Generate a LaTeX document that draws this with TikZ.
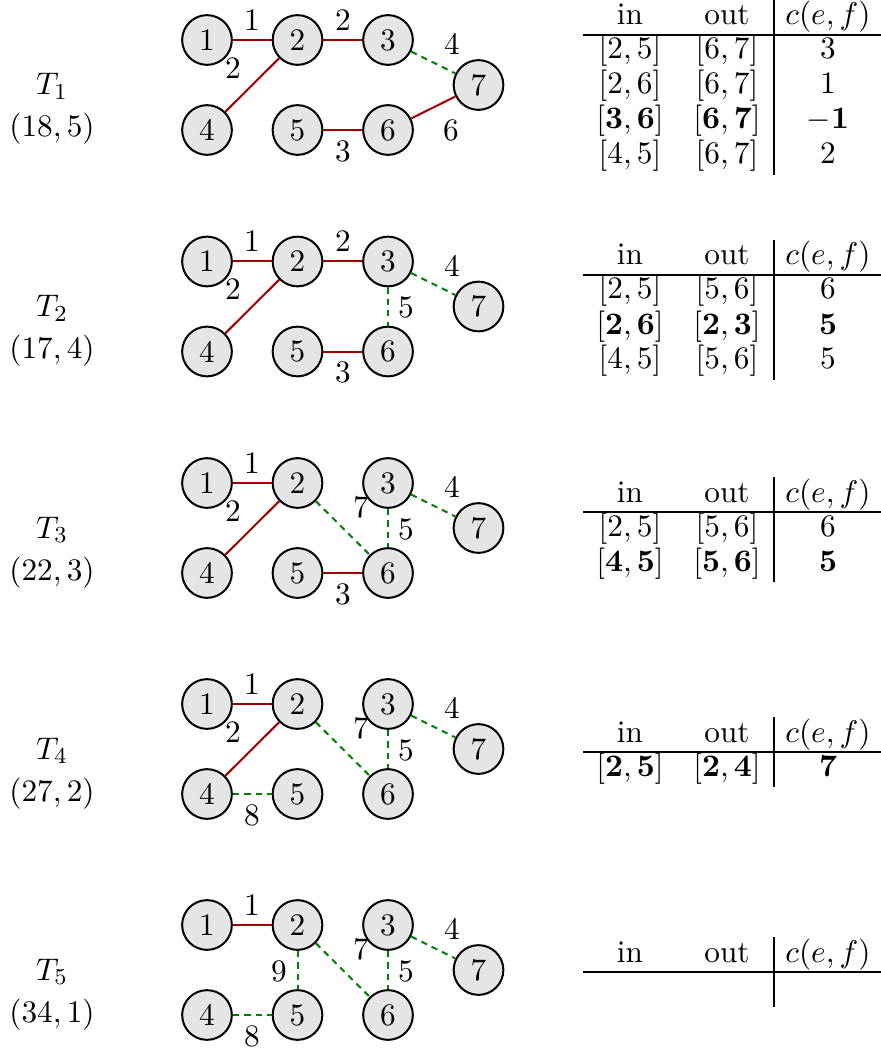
\documentclass[tikz,border=0pt]{standalone}
\usepackage{fix-cm}
\definecolor{edgered}{RGB}{160,0,0}
\definecolor{edgegreen}{RGB}{0,128,0}
\tikzset{
  every node/.style={font=\fontsize{10.95}{13.6}\selectfont},
  vert/.style={circle, draw=black, fill=black!10, line width=0.7pt, minimum size=17.4pt, inner sep=0pt},
  tree/.style={draw=edgered, line width=0.7pt},
  nontree/.style={draw=edgegreen, line width=0.7pt, dash pattern=on 2.2pt off 1.8pt},
  lab/.style={inner sep=0pt},
  cell/.style={inner sep=0pt, anchor=base},
  hrule/.style={line width=0.8pt},
  vrule/.style={line width=0.4pt}
}
\newcommand\placeverts{%
  \node[vert] (1) at (207,0) {1};
  \node[vert] (2) at (297.5,0) {2};
  \node[vert] (3) at (388,0) {3};
  \node[vert] (7) at (478.5,45) {7};
  \node[vert] (4) at (207,90) {4};
  \node[vert] (5) at (297.5,90) {5};
  \node[vert] (6) at (388,90) {6};
}
\newcommand\tlabel[2]{%
  \node[cell] (T) at (52,55) {$T_{#1}$};
  \node[cell] (P) at (52,97) {$#2$};
}
% #1 baseline of header, #2 bottom of vertical rule, #3 name prefix
\newcommand\tabframe[3]{%
  \node[cell] (#3hin) at (630,#1) {in};
  \node[cell] (#3hout) at (727,#1) {out};
  \node[cell] (#3hc) at (828,#1) {$c(e,f)$};
  \coordinate (#3rl) at (583,{#1+10});
  \coordinate (#3rr) at (881,{#1+10});
  \coordinate (#3vt) at (774,{#1-25});
  \coordinate (#3vb) at (774,#2);
  \draw[hrule] (#3rl) -- (#3rr);
  \draw[vrule] (#3vt) -- (#3vb);
}
\newcommand\tabrow[5]{% #1 name, #2 baseline, #3 in, #4 out, #5 c
  \node[cell] (#1in) at (630,#2) {$#3$};
  \node[cell] (#1out) at (727,#2) {$#4$};
  \node[cell] (#1c) at (828,#2) {$#5$};
}
\begin{document}
\begin{tikzpicture}[x=0.35pt,y=-0.35pt]
\useasboundingbox (0,0) rectangle (881,1051);

% ---------- T1 ----------
\begin{scope}[shift={(0,40)}, name prefix=A-]
  \tlabel{1}{(18,5)}
  \placeverts
  \draw[tree] (1) -- (2);
  \draw[tree] (2) -- (3);
  \draw[tree] (4) -- (2);
  \draw[nontree] (3) -- (7);
  \draw[tree] (6) -- (7);
  \draw[tree] (5) -- (6);
  \node[lab] (e12) at (252,-20) {1};
  \node[lab] (e23) at (343,-20) {2};
  \node[lab] (e24) at (233,28) {2};
  \node[lab] (e37) at (452,4) {4};
  \node[lab] (e67) at (451,90) {6};
  \node[lab] (e56) at (343,111) {3};
\end{scope}

% ---------- T2 ----------
\begin{scope}[shift={(0,261.5)}, name prefix=B-]
  \tlabel{2}{(17,4)}
  \placeverts
  \draw[tree] (1) -- (2);
  \draw[tree] (2) -- (3);
  \draw[tree] (4) -- (2);
  \draw[nontree] (3) -- (7);
  \draw[nontree] (3) -- (6);
  \draw[tree] (5) -- (6);
  \node[lab] (e12) at (252,-20) {1};
  \node[lab] (e23) at (343,-20) {2};
  \node[lab] (e24) at (233,28) {2};
  \node[lab] (e37) at (452,4) {4};
  \node[lab] (e36) at (406,46) {5};
  \node[lab] (e56) at (343,111) {3};
\end{scope}

% ---------- T3 ----------
\begin{scope}[shift={(0,483)}, name prefix=C-]
  \tlabel{3}{(22,3)}
  \placeverts
  \draw[tree] (1) -- (2);
  \draw[tree] (4) -- (2);
  \draw[nontree] (2) -- (6);
  \draw[nontree] (3) -- (6);
  \draw[nontree] (3) -- (7);
  \draw[tree] (5) -- (6);
  \node[lab] (e12) at (252,-20) {1};
  \node[lab] (e24) at (233,28) {2};
  \node[lab] (e26) at (361,24) {7};
  \node[lab] (e37) at (452,4) {4};
  \node[lab] (e36) at (406,46) {5};
  \node[lab] (e56) at (343,111) {3};
\end{scope}

% ---------- T4 ----------
\begin{scope}[shift={(0,704)}, name prefix=D-]
  \tlabel{4}{(27,2)}
  \placeverts
  \draw[tree] (1) -- (2);
  \draw[tree] (4) -- (2);
  \draw[nontree] (2) -- (6);
  \draw[nontree] (3) -- (6);
  \draw[nontree] (3) -- (7);
  \draw[nontree] (4) -- (5);
  \node[lab] (e12) at (252,-20) {1};
  \node[lab] (e24) at (233,28) {2};
  \node[lab] (e26) at (361,24) {7};
  \node[lab] (e37) at (452,4) {4};
  \node[lab] (e36) at (406,46) {5};
  \node[lab] (e45) at (252,111) {8};
\end{scope}

% ---------- T5 ----------
\begin{scope}[shift={(0,925)}, name prefix=E-]
  \tlabel{5}{(34,1)}
  \placeverts
  \draw[tree] (1) -- (2);
  \draw[nontree] (2) -- (5);
  \draw[nontree] (2) -- (6);
  \draw[nontree] (3) -- (6);
  \draw[nontree] (3) -- (7);
  \draw[nontree] (4) -- (5);
  \node[lab] (e12) at (252,-20) {1};
  \node[lab] (e25) at (279,46) {9};
  \node[lab] (e26) at (361,24) {7};
  \node[lab] (e37) at (452,4) {4};
  \node[lab] (e36) at (406,46) {5};
  \node[lab] (e45) at (252,111) {8};
\end{scope}

% ---------- tables ----------
\tabframe{25}{175}{ta}
\tabrow{ta1}{59}{[2,5]}{[6,7]}{3}
\tabrow{ta2}{94}{[2,6]}{[6,7]}{1}
\tabrow{ta3}{129}{[\mathbf{3},\mathbf{6}]}{[\mathbf{6},\mathbf{7}]}{-\mathbf{1}}
\tabrow{ta4}{164}{[4,5]}{[6,7]}{2}

\tabframe{265}{380}{tb}
\tabrow{tb1}{299}{[2,5]}{[5,6]}{6}
\tabrow{tb2}{334}{[\mathbf{2},\mathbf{6}]}{[\mathbf{2},\mathbf{3}]}{\mathbf{5}}
\tabrow{tb3}{369}{[4,5]}{[5,6]}{5}

\tabframe{502}{582}{tc}
\tabrow{tc1}{536}{[2,5]}{[5,6]}{6}
\tabrow{tc2}{571}{[\mathbf{4},\mathbf{5}]}{[\mathbf{5},\mathbf{6}]}{\mathbf{5}}

\tabframe{742}{787}{td}
\tabrow{td1}{776}{[\mathbf{2},\mathbf{5}]}{[\mathbf{2},\mathbf{4}]}{\mathbf{7}}

\tabframe{962}{1007}{te}
\end{tikzpicture}
\end{document}
